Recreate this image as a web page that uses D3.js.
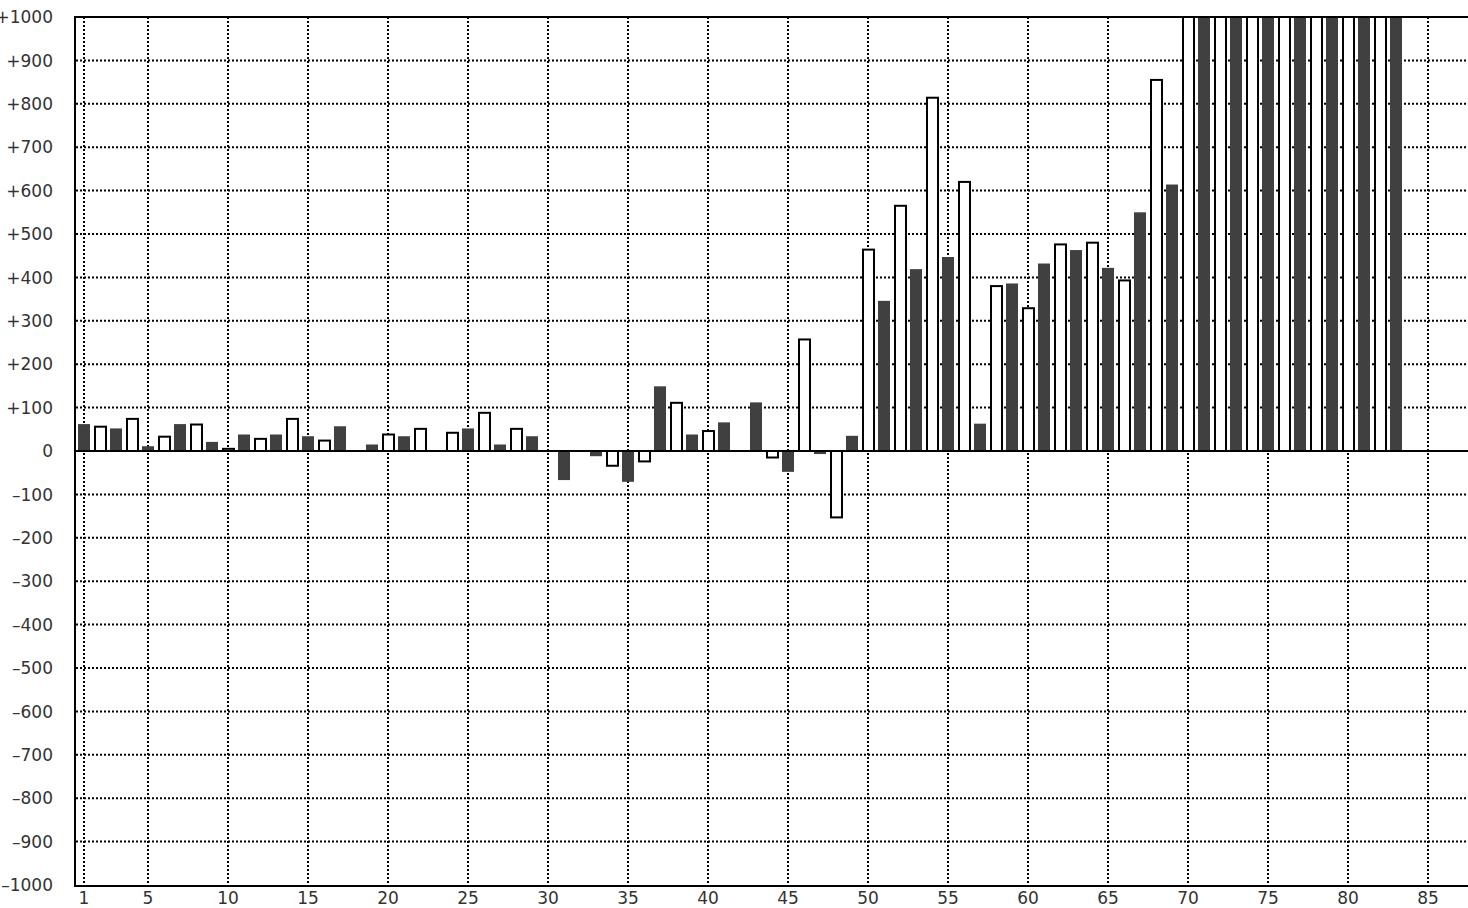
<!DOCTYPE html>
<html>
<head>
<meta charset="utf-8">
<script src="https://cdn.jsdelivr.net/npm/d3@7"></script>
<style>
  html, body { margin: 0; padding: 0; background: #fff; overflow: hidden; }
  svg { display: block; }
  text { font-family: "DejaVu Sans", Verdana, sans-serif; font-size: 17px; fill: #333; }
</style>
</head>
<body>
<svg id="chart" width="1468" height="908"></svg>
<script>
// ---- data ----
const categories = d3.range(1, 84);
const values = [
  62, 56, 52, 74, 11, 33, 62, 61, 21, 5,
  38, 28, 38, 74, 34, 24, 57, null, 15, 38,
  34, 51, null, 42, 52, 88, 15, 51, 34, null,
  -67, null, -12, -34, -71, -24, 149, 111, 38, 46,
  66, null, 112, -15, -48, 257, -7, -153, 35, 464,
  346, 565, 419, 814, 447, 620, 63, 380, 386, 329,
  432, 476, 463, 480, 422, 393, 550, 855, 614, 1000,
  1000, 1000, 1000, 1000, 1000, 1000, 1000, 1000, 1000, 1000,
  1000, 1000, 1000
];
const xTickValues = [1, 5, 10, 15, 20, 25, 30, 35, 40, 45, 50, 55, 60, 65, 70, 75, 80, 85];
const yTickValues = d3.range(-1000, 1001, 100);
const yTickLabels = yTickValues.map(v => v > 0 ? "+" + v : v < 0 ? "\u2013" + Math.abs(v) : "0");

// ---- layout ----
const plotL = 75, plotR = 1468, plotT = 17, plotB = 885;
const x = d3.scaleLinear().domain([1, 85]).range([84, 1428]);
const y = d3.scaleLinear().domain([-1000, 1000]).range([plotB, plotT]);

const svg = d3.select("#chart");

svg.append("defs").append("clipPath").attr("id", "plotclip")
  .append("rect").attr("x", plotL).attr("y", plotT).attr("width", plotR - plotL).attr("height", plotB - plotT);

// grid
const grid = svg.append("g");
grid.selectAll("line.h").data(yTickValues.filter(v => v !== 0 && Math.abs(v) !== 1000)).enter()
  .append("line")
  .attr("x1", plotL + 1).attr("x2", plotR)
  .attr("y1", d => y(d)).attr("y2", d => y(d))
  .attr("stroke", "#000").attr("stroke-width", 2).attr("stroke-dasharray", "2,2");
grid.selectAll("line.v").data(xTickValues).enter()
  .append("line")
  .attr("x1", d => x(d)).attr("x2", d => x(d))
  .attr("y1", plotT).attr("y2", plotB)
  .attr("stroke", "#000").attr("stroke-width", 2).attr("stroke-dasharray", "2,2");

// bars
const data = categories.map((c, i) => ({ c, v: values[i] })).filter(d => d.v !== null);
const bars = svg.append("g").attr("clip-path", "url(#plotclip)");
bars.selectAll("rect").data(data).enter().append("rect")
  .each(function(d) {
    const dark = d.c % 2 === 1;
    const sel = d3.select(this);
    const y0 = y(0), y1 = y(d.v);
    if (dark) {
      sel.attr("x", x(d.c) - 6).attr("width", 12)
        .attr("y", Math.min(y0, y1)).attr("height", Math.abs(y1 - y0))
        .attr("fill", "#404040");
    } else {
      sel.attr("x", x(d.c) - 5).attr("width", 11)
        .attr("y", Math.min(y0, y1)).attr("height", Math.abs(y1 - y0))
        .attr("fill", "#fff").attr("stroke", "#000").attr("stroke-width", 2);
    }
  });

// frame / axes
svg.append("line").attr("x1", plotL).attr("x2", plotL).attr("y1", plotT - 1).attr("y2", plotB + 2)
  .attr("stroke", "#000").attr("stroke-width", 2);
svg.append("line").attr("x1", plotL - 1).attr("x2", plotR).attr("y1", plotT).attr("y2", plotT)
  .attr("stroke", "#000").attr("stroke-width", 2);
svg.append("line").attr("x1", plotL - 1).attr("x2", plotR).attr("y1", plotB + 1).attr("y2", plotB + 1)
  .attr("stroke", "#000").attr("stroke-width", 2);
svg.append("line").attr("x1", plotL).attr("x2", plotR).attr("y1", y(0)).attr("y2", y(0))
  .attr("stroke", "#000").attr("stroke-width", 2);

// y labels
svg.append("g").selectAll("text").data(yTickValues).enter().append("text")
  .attr("x", 53).attr("y", d => y(d)).attr("dy", "0.36em")
  .attr("text-anchor", "end")
  .text((d, i) => yTickLabels[i]);

// x labels
svg.append("g").selectAll("text").data(xTickValues).enter().append("text")
  .attr("x", d => x(d)).attr("y", 904)
  .attr("text-anchor", "middle")
  .text(d => d);
</script>
</body>
</html>
